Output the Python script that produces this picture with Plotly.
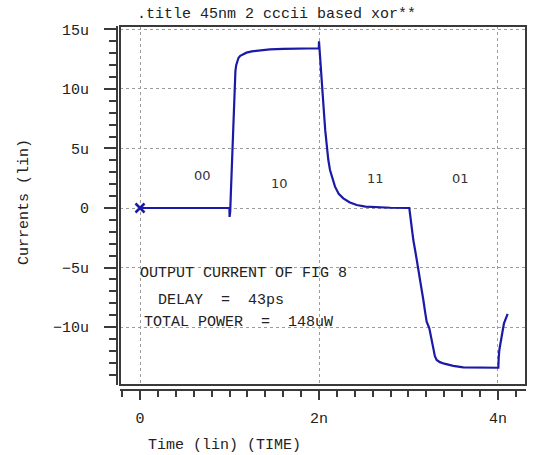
import plotly.graph_objects as go

# ---- data (time in ns, current in uA) ----
t_ns = [0.0, 0.999, 1.001, 1.008, 1.015, 1.028, 1.036, 1.043, 1.050, 1.058, 1.066,
        1.075, 1.085, 1.100, 1.120, 1.150, 1.190, 1.250, 1.340, 1.450, 1.600, 1.800,
        1.998, 2.000, 2.005, 2.015, 2.030, 2.043, 2.056, 2.070, 2.086, 2.104, 2.123,
        2.150, 2.179, 2.220, 2.272, 2.340, 2.421, 2.520, 2.645, 2.800, 3.009, 3.030,
        3.054, 3.080, 3.110, 3.140, 3.166, 3.185, 3.203, 3.233, 3.255, 3.277, 3.295,
        3.315, 3.350, 3.400, 3.427, 3.500, 3.612, 3.799, 4.004, 4.008, 4.015, 4.041,
        4.067, 4.108]
i_uA = [0.0, 0.0, -0.75, -0.3, 1.2, 3.75, 6.0, 7.96, 9.6, 10.76, 11.5,
        12.0, 12.35, 12.6, 12.78, 12.92, 13.05, 13.16, 13.26, 13.32, 13.36, 13.40,
        13.42, 14.0, 13.4, 12.5, 10.76, 9.3, 7.96, 6.5, 5.15, 4.05, 3.19,
        2.4, 1.79, 1.2, 0.81, 0.48, 0.25, 0.12, 0.06, 0.02, 0.0, -1.3,
        -2.69, -3.8, -5.07, -6.4, -7.73, -8.7, -9.55, -10.1, -11.0, -11.93, -12.45,
        -12.77, -12.95, -13.08, -13.14, -13.26, -13.39, -13.42, -13.42, -12.6, -11.93, -10.8,
        -9.69, -8.9]

x_tickvals = [0, 2, 4]
x_ticktext = ["0", "2n", "4n"]
y_tickvals = [-10, -5, 0, 5, 10, 15]
y_ticktext = ["\u221210u", "\u22125u", "0", "5u", "10u", "15u"]

region_labels = ["00", "10", "11", "01"]
region_x = [0.70, 1.564, 2.626, 3.58]
region_y = [2.77, 2.02, 2.48, 2.52]

note_lines = ["OUTPUT CURRENT OF FIG 8", "DELAY  =  43ps", "TOTAL POWER  =  148uW"]
note_x = [-0.02, 0.179, 0.019]
note_y = [-5.5, -7.73, -9.62]

title_text = ".title 45nm 2 cccii based xor**"
x_title = "Time (lin) (TIME)"
y_title = "Currents (lin)"

# ---- layout geometry ----
W, H = 544, 455
ML, MR, MT, MB = 117, 18, 26, 65
PW, PH = W - ML - MR, H - MT - MB

def px(xp):
    return (xp - ML) / PW

def py(yp):
    return (H - MB - yp) / PH

MONO = "Liberation Mono"
BLUE = "#1a1aa6"
FRAME = "#3a3a3a"
GRID = "#9c9c9c"

fig = go.Figure()
fig.add_trace(go.Scatter(x=t_ns, y=i_uA, mode="lines",
                         line=dict(color=BLUE, width=2.2), showlegend=False))
fig.add_trace(go.Scatter(x=[t_ns[0]], y=[i_uA[0]], mode="markers",
                         marker=dict(symbol="x-thin", size=9,
                                     line=dict(color=BLUE, width=2.5)),
                         showlegend=False))

for lab, xx, yy in zip(region_labels, region_x, region_y):
    fig.add_annotation(x=xx, y=yy, text=lab, showarrow=False,
                       font=dict(family="DejaVu Sans", size=13, color="#333"),
                       xanchor="center", yanchor="middle")

for lab, xx, yy in zip(note_lines, note_x, note_y):
    fig.add_annotation(x=xx, y=yy, text=lab.replace(" ", "&nbsp;"), showarrow=False,
                       font=dict(family=MONO, size=15, color="#222"),
                       xanchor="left", yanchor="middle")

fig.add_annotation(xref="paper", yref="paper", x=px(276), y=py(14.5), text=title_text,
                   showarrow=False, font=dict(family=MONO, size=15, color="#222"),
                   xanchor="center", yanchor="middle")
fig.add_annotation(xref="paper", yref="paper", x=px(224), y=py(446), text=x_title,
                   showarrow=False, font=dict(family=MONO, size=15, color="#222"),
                   xanchor="center", yanchor="middle")
fig.add_annotation(xref="paper", yref="paper", x=px(25), y=py(202), text=y_title,
                   showarrow=False, textangle=-90,
                   font=dict(family=MONO, size=15, color="#222"),
                   xanchor="center", yanchor="middle")

fig.add_shape(type="rect", xref="x domain", yref="y domain", x0=0, x1=1, y0=0, y1=1,
              line=dict(color=FRAME, width=2), layer="above")

fig.update_layout(
    width=W, height=H,
    margin=dict(l=ML, r=MR, t=MT, b=MB, pad=0),
    paper_bgcolor="white", plot_bgcolor="white",
    font=dict(family=MONO, size=15, color="#222"),
    xaxis=dict(domain=[3 / PW, 1], anchor="free", position=0,
               range=[-0.2235, 4.313], tickvals=x_tickvals, ticktext=x_ticktext,
               showline=True, linecolor=FRAME, linewidth=2,
               ticks="outside", ticklen=9, tickwidth=2, tickcolor=FRAME,
               ticklabelstandoff=5,
               showgrid=True, gridcolor=GRID, griddash="3px,3px", gridwidth=1,
               zeroline=False,
               minor=dict(dtick=0.2, tick0=0, ticks="outside", ticklen=6,
                          tickwidth=1.5, tickcolor=FRAME, showgrid=False)),
    yaxis=dict(domain=[5 / PH, 1], anchor="free", position=0,
               range=[-14.87, 15.29], tickvals=y_tickvals, ticktext=y_ticktext,
               showline=True, linecolor=FRAME, linewidth=2,
               ticks="outside", ticklen=12, tickwidth=2, tickcolor=FRAME,
               ticklabelstandoff=12,
               showgrid=True, gridcolor=GRID, griddash="3px,3px", gridwidth=1,
               zeroline=False,
               minor=dict(dtick=1, tick0=0, ticks="outside", ticklen=7,
                          tickwidth=1.5, tickcolor=FRAME, showgrid=False)),
)

fig.write_html("out.html")
